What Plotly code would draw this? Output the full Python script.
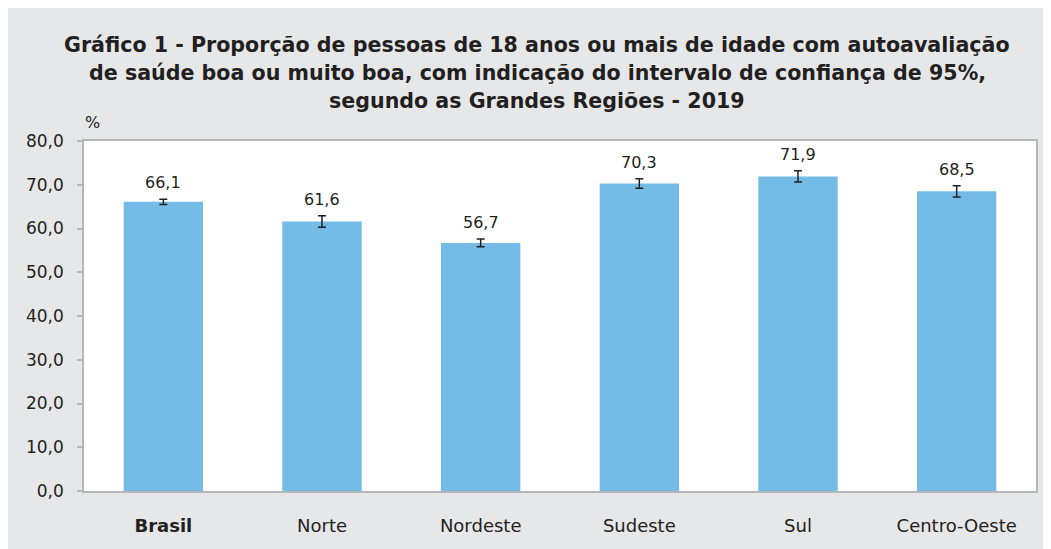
import plotly.graph_objects as go

# Grandes Regiões - PNS 2019
regioes = ["Brasil", "Norte", "Nordeste", "Sudeste", "Sul", "Centro-Oeste"]
rotulos = ["<b>Brasil</b>", "Norte", "Nordeste", "Sudeste", "Sul", "Centro-Oeste"]
proporcao = [66.1, 61.6, 56.7, 70.3, 71.9, 68.5]
ic_margem = [0.6, 1.3, 0.9, 1.1, 1.3, 1.3]
y_ticks = [0, 10, 20, 30, 40, 50, 60, 70, 80]
titulo = [
    "Gráfico 1 - Proporção de pessoas de 18 anos ou mais de idade com autoavaliação",
    "de saúde boa ou muito boa, com indicação do intervalo de confiança de 95%,",
    "segundo as Grandes Regiões - 2019",
]

COR_BARRA = "#74bce7"
COR_TEXTO = "#231f20"
COR_FUNDO = "#e6e7e9"
COR_EIXO = "#b4b6b8"
FONTE = "DejaVu Sans, Arial, sans-serif"

fig = go.Figure()
fig.add_trace(go.Bar(
    x=regioes,
    y=proporcao,
    marker_color=COR_BARRA,
    marker_line_width=0,
    error_y=dict(type="data", array=ic_margem, visible=True,
                 color=COR_TEXTO, thickness=1.5, width=4),
    hoverinfo="skip",
))

# rótulos de valor acima do intervalo de confiança
anotacoes = []
for reg, v, e in zip(regioes, proporcao, ic_margem):
    anotacoes.append(dict(
        x=reg, y=v + e, xref="x", yref="y",
        text=f"{v:.1f}".replace(".", ","),
        xanchor="center", yanchor="bottom", yshift=5, showarrow=False,
        font=dict(size=16, color=COR_TEXTO, family=FONTE),
    ))

# título em três linhas
for i, linha in enumerate(titulo):
    anotacoes.append(dict(
        text=f"<b>{linha}</b>", xref="paper", yref="paper",
        x=0.476, y=1 + (96 - 28 * i) / 350,
        xanchor="center", yanchor="middle", showarrow=False,
        font=dict(size=20.6, color=COR_TEXTO, family=FONTE),
    ))

anotacoes.append(dict(
    text="%", xref="paper", yref="paper", x=0.0094, y=1 + 19 / 350,
    xanchor="center", yanchor="middle", showarrow=False,
    font=dict(size=16, color=COR_TEXTO, family=FONTE),
))

fig.update_layout(
    width=1040,
    height=541,
    showlegend=False,
    bargap=0.5,
    separators=",.",
    font=dict(family=FONTE, color=COR_TEXTO, size=16),
    paper_bgcolor=COR_FUNDO,
    plot_bgcolor="white",
    margin=dict(l=76, r=10, t=133, b=58),
    xaxis=dict(
        tickmode="array", tickvals=regioes, ticktext=rotulos,
        showline=True, linecolor=COR_EIXO, linewidth=1.5, mirror=True,
        ticks="", ticklabelstandoff=18,
        tickfont=dict(size=18, color=COR_TEXTO),
        showgrid=False, fixedrange=True,
    ),
    yaxis=dict(
        range=[0, 80], tickvals=y_ticks, tickformat=".1f",
        showline=True, linecolor=COR_EIXO, linewidth=1.5, mirror=True,
        ticks="outside", ticklen=5, tickcolor=COR_EIXO, tickwidth=1.5,
        ticklabelstandoff=10,
        tickfont=dict(size=17, color=COR_TEXTO),
        showgrid=False, zeroline=False, fixedrange=True,
    ),
    annotations=anotacoes,
)

fig.write_html("out.html")
